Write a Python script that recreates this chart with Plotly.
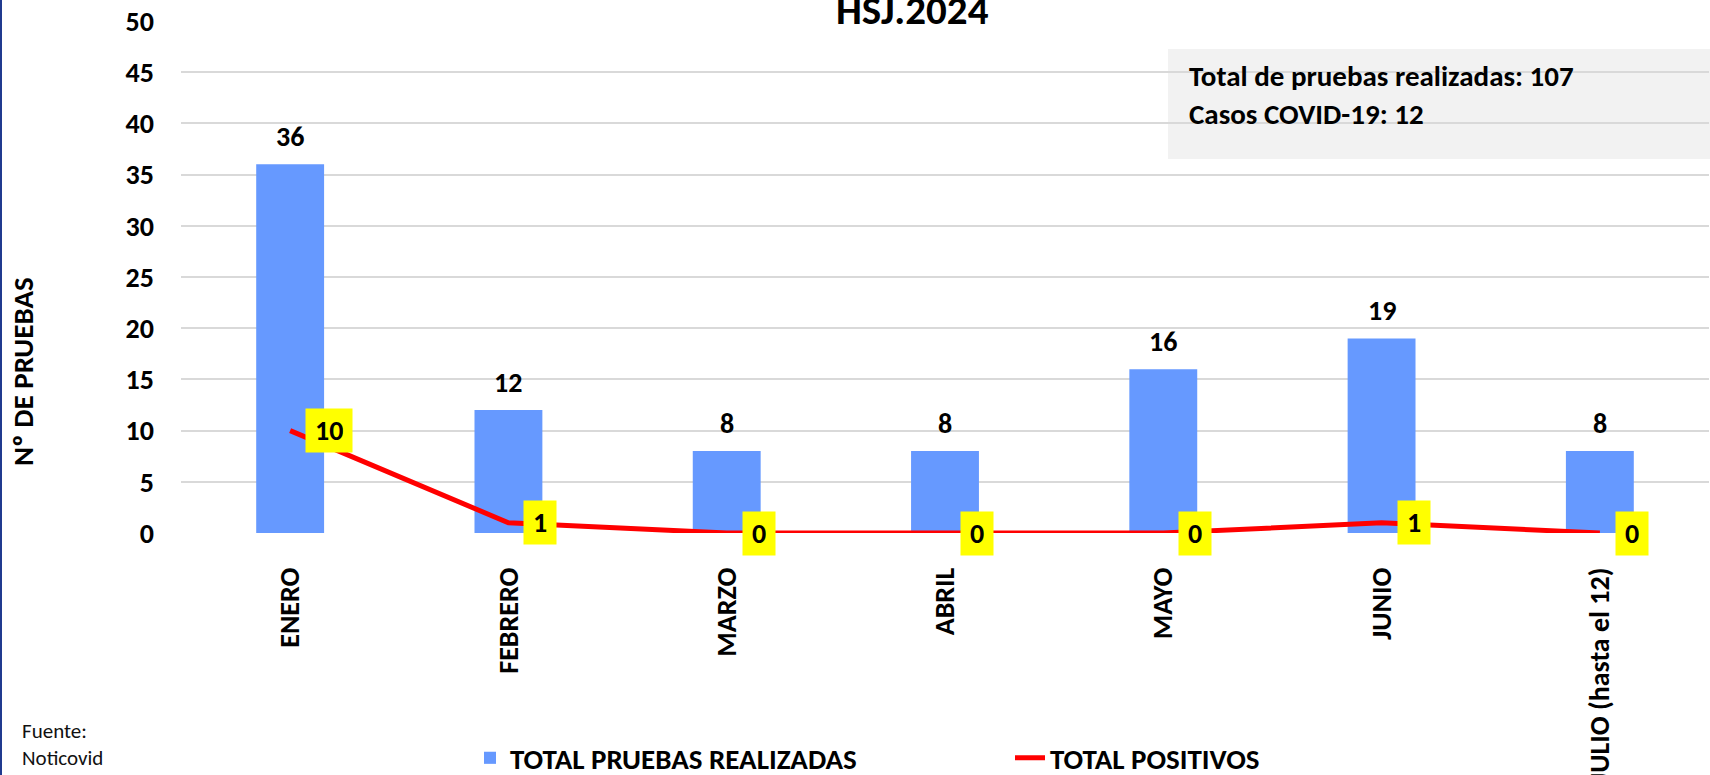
import plotly.graph_objects as go

# ---- data ----
months = ["ENERO", "FEBRERO", "MARZO", "ABRIL", "MAYO", "JUNIO", "JULIO (hasta el 12)"]
total_pruebas = [36, 12, 8, 8, 16, 19, 8]
total_positivos = [10, 1, 0, 0, 0, 1, 0]
series_names = ["TOTAL PRUEBAS REALIZADAS", "TOTAL POSITIVOS"]
title_text = "HSJ.2024"
yaxis_title = "Nº DE PRUEBAS"
box_lines = ["Total de pruebas realizadas: 107", "Casos COVID-19: 12"]
source_lines = ["Fuente:", "Noticovid"]

FONT = "Calibri, Carlito, Lato, sans-serif"
W, H = 1710, 775
ML, MR, MT, MB = 181, 1, 21, 242
PW = W - ML - MR
PH = H - MT - MB


def px(x):
    return (x - ML) / PW


def py(y):
    return (H - MB - y) / PH


fig = go.Figure()
fig.add_trace(go.Bar(
    x=months, y=total_pruebas, name=series_names[0],
    marker=dict(color="#6699FF", line=dict(width=0)),
))
fig.add_trace(go.Scatter(
    x=months, y=total_positivos, name=series_names[1], mode="lines",
    line=dict(color="#FF0000", width=5),
))

bold = dict(family=FONT, size=28, color="#000000", weight="bold")
annotations = []
for m, v in zip(months, total_pruebas):
    annotations.append(dict(x=m, y=v, xref="x", yref="y", text=str(v), showarrow=False,
                            yanchor="bottom", yshift=8, font=bold))
for m, v in zip(months, total_positivos):
    annotations.append(dict(x=m, y=v, xref="x", yref="y", text=str(v), showarrow=False,
                            xanchor="left", yanchor="middle", xshift=15,
                            bgcolor="#FFFF00", borderpad=9, height=25, font=bold))

annotations.append(dict(x=px(912), y=1, xref="paper", yref="paper", text=title_text,
                        showarrow=False, xanchor="center", yanchor="bottom", yshift=-16,
                        font=dict(family=FONT, size=41, color="#000000", weight="bold")))
annotations.append(dict(x=px(23), y=py(372), xref="paper", yref="paper", text=yaxis_title,
                        showarrow=False, textangle=-90, xanchor="center", yanchor="middle",
                        font=dict(family=FONT, size=29, color="#000000", weight="bold")))
annotations.append(dict(x=px(1187), y=py(95), xref="paper", yref="paper",
                        text="<br>".join(box_lines), align="left",
                        showarrow=False, xanchor="left", yanchor="middle",
                        font=dict(family=FONT, size=29, color="#000000", weight="bold")))
annotations.append(dict(x=px(20), y=py(744.5), xref="paper", yref="paper",
                        text="<br>".join(source_lines), align="left",
                        showarrow=False, xanchor="left", yanchor="middle",
                        font=dict(family=FONT, size=21, color="#111111")))

shapes = [
    dict(type="rect", xref="paper", yref="paper", x0=px(1168), x1=px(1760),
         y0=py(159), y1=py(49), fillcolor="#F2F2F2", line=dict(width=0), layer="between"),
    dict(type="line", xref="paper", yref="paper", x0=px(1), x1=px(1),
         y0=py(800), y1=py(-20), line=dict(color="#203A8F", width=2)),
]

fig.update_layout(
    width=W, height=H,
    margin=dict(l=ML, r=MR, t=MT, b=MB, pad=0, autoexpand=False),
    paper_bgcolor="#FFFFFF", plot_bgcolor="#FFFFFF",
    bargap=0.689,
    showlegend=True,
    legend=dict(orientation="h", x=px(470), y=py(758), xanchor="left", yanchor="middle",
                font=dict(family=FONT, size=29, color="#000000", weight="bold"),
                entrywidth=495, entrywidthmode="pixels", bgcolor="rgba(0,0,0,0)"),
    annotations=annotations,
    shapes=shapes,
    xaxis=dict(showgrid=False, showline=False, zeroline=False, tickangle=-90,
               ticklabelstandoff=28, tickfont=bold, ticks="", automargin=False),
    yaxis=dict(range=[0, 50], dtick=5, showgrid=True, gridcolor="#D9D9D9", gridwidth=1.5,
               zeroline=False, showline=False, ticks="", ticklabelstandoff=26, tickfont=bold,
               automargin=False),
    font=dict(family=FONT),
)

fig.write_html("out.html",
               config={"displayModeBar": False},
               post_script="document.body.style.margin='0';document.body.style.overflow='hidden';")
